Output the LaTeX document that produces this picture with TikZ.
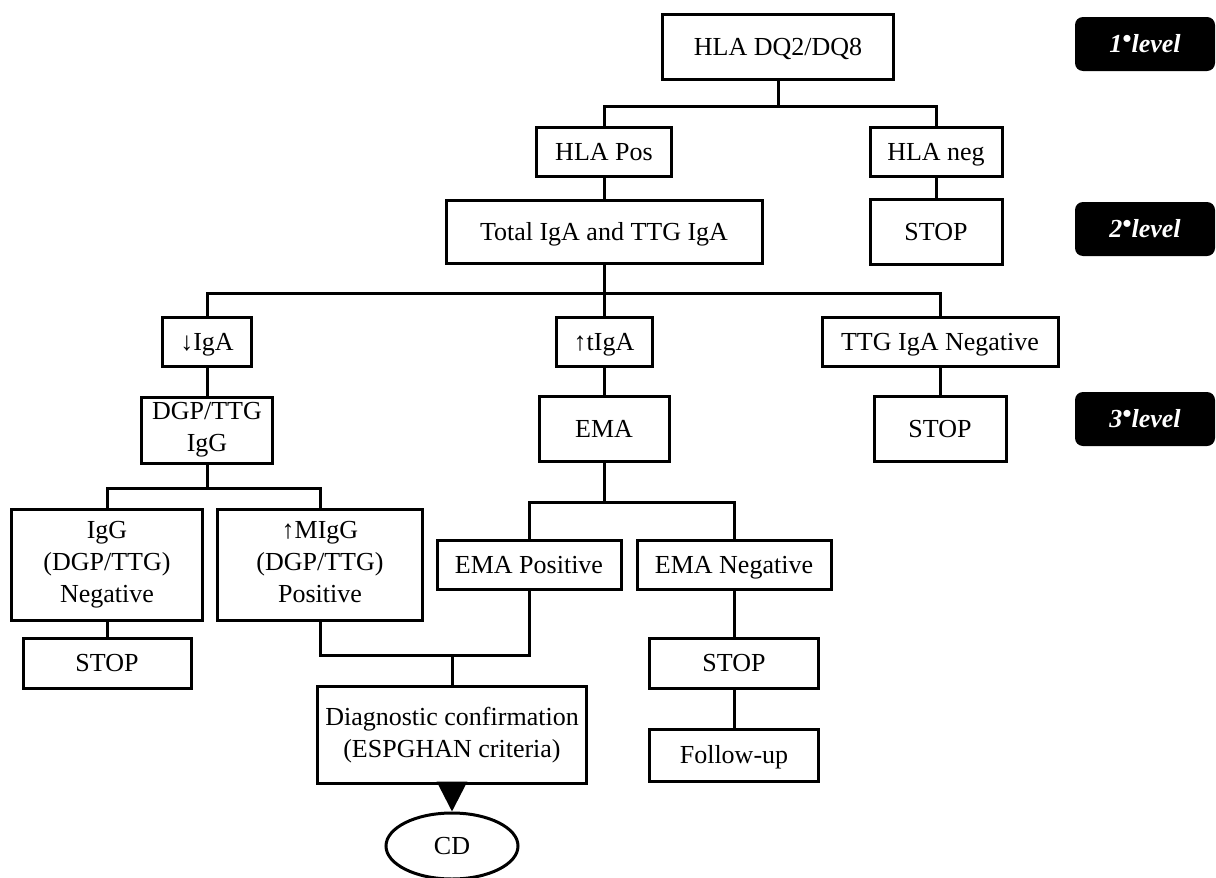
\documentclass[tikz,border=0pt]{standalone}
\usepackage{fontspec}
\setmainfont{Liberation Serif}
\usetikzlibrary{arrows.meta,shapes.geometric}

\newcommand{\boxstrut}{\rule[-0.24em]{0pt}{1.14em}}
\tikzset{
	flowbox/.style={draw, line width=1.5pt, align=center, inner sep=0pt, font=\fontsize{13}{16}\selectfont, execute at begin node={\boxstrut}, execute at end node={\boxstrut}},
	badge/.style={fill=black, rounded corners=4pt, text=white, minimum width=70pt, minimum height=27pt, inner sep=0pt, font=\fontsize{13}{16}\selectfont\bfseries\itshape},
	link/.style={line width=1.5pt}
}
\newcommand{\lvl}[1]{#1\raisebox{0.45ex}{\textbullet}level}

\begin{document}
\begin{tikzpicture}[x=0.5pt, y=-0.5pt]
	\useasboundingbox (0,0) rectangle (1216,878);

	% levels
	\node[badge] (l1) at (1145,44) {\lvl{1}};
	\node[badge] (l2) at (1145,229) {\lvl{2}};
	\node[badge] (l3) at (1145,419) {\lvl{3}};

	\node[flowbox, minimum width=115.5pt, minimum height=32.5pt] (dq) at (778,47) {HLA DQ2/DQ8};
	\node[flowbox, minimum width=67.5pt, minimum height=24.5pt] (pos) at (604,152) {HLA Pos};
	\node[flowbox, minimum width=66pt, minimum height=24.5pt] (neg) at (936,152) {HLA neg};
	\node[flowbox, minimum width=158pt, minimum height=31.5pt] (total) at (604,232) {Total IgA and TTG IgA};
	\node[flowbox, minimum width=66pt, minimum height=32.5pt] (stopa) at (936,232) {STOP};

	\node[flowbox, minimum width=44.5pt, minimum height=24.5pt] (lowiga) at (207,342) {↓IgA};
	\node[flowbox, minimum width=48pt, minimum height=24.5pt] (hightiga) at (604,342) {↑tIgA};
	\node[flowbox, minimum width=118pt, minimum height=24.5pt] (ttgneg) at (940,342) {TTG IgA Negative};
	\node[flowbox, minimum width=65.5pt, minimum height=33pt] (dgp) at (207,430) {DGP/TTG\\IgG};
	\node[flowbox, minimum width=65pt, minimum height=32.5pt] (ema) at (604,429) {EMA};
	\node[flowbox, minimum width=66pt, minimum height=32.5pt] (stopb) at (940,429) {STOP};

	\node[flowbox, minimum width=95.5pt, minimum height=55.5pt] (iggneg) at (107,565) {IgG\\(DGP/TTG)\\Negative};
	\node[flowbox, minimum width=102.5pt, minimum height=55.5pt] (miggpos) at (320,565) {↑MIgG\\(DGP/TTG)\\Positive};
	\node[flowbox, minimum width=92pt, minimum height=24.5pt] (emapos) at (529,565) {EMA Positive};
	\node[flowbox, minimum width=97pt, minimum height=24.5pt] (emaneg) at (734,565) {EMA Negative};
	\node[flowbox, minimum width=84pt, minimum height=25pt] (stopc) at (107,663) {STOP};
	\node[flowbox, minimum width=84.5pt, minimum height=25pt] (stopd) at (734,663) {STOP};
	\node[flowbox, minimum width=84.5pt, minimum height=26pt] (follow) at (734,755) {Follow-up};
	\node[flowbox, minimum width=134.5pt, minimum height=48.5pt] (diag) at (452,735) {Diagnostic confirmation\\(ESPGHAN criteria)};
	\node[flowbox, ellipse, minimum width=66pt, minimum height=33pt] (cd) at (452,846) {CD};

	% connectors
	\draw[link] (dq.south) -- ++(0,25) -| (pos.north);
	\draw[link] (dq.south) -- ++(0,25) -| (neg.north);
	\draw[link] (pos) -- (total);
	\draw[link] (neg) -- (stopa);
	\draw[link] (total.south) -- ++(0,28) -| (lowiga.north);
	\draw[link] (total.south) -- ++(0,28) -| (ttgneg.north);
	\draw[link] (total) -- (hightiga);
	\draw[link] (lowiga) -- (dgp);
	\draw[link] (hightiga) -- (ema);
	\draw[link] (ttgneg) -- (stopb);
	\draw[link] (dgp.south) -- ++(0,24) -| (iggneg.north);
	\draw[link] (dgp.south) -- ++(0,24) -| (miggpos.north);
	\draw[link] (ema.south) -- ++(0,39) -| (emapos.north);
	\draw[link] (ema.south) -- ++(0,39) -| (emaneg.north);
	\draw[link] (iggneg) -- (stopc);
	\draw[link] (emaneg) -- (stopd);
	\draw[link] (stopd) -- (follow);
	\draw[link] (miggpos.south) -- ++(0,33) coordinate (join) -| (emapos.south);
	\draw[link] (join -| diag.north) -- (diag.north);
	\draw[link, -{Triangle[width=15pt, length=15pt]}] (diag.south) -- (cd.north);
\end{tikzpicture}
\end{document}
